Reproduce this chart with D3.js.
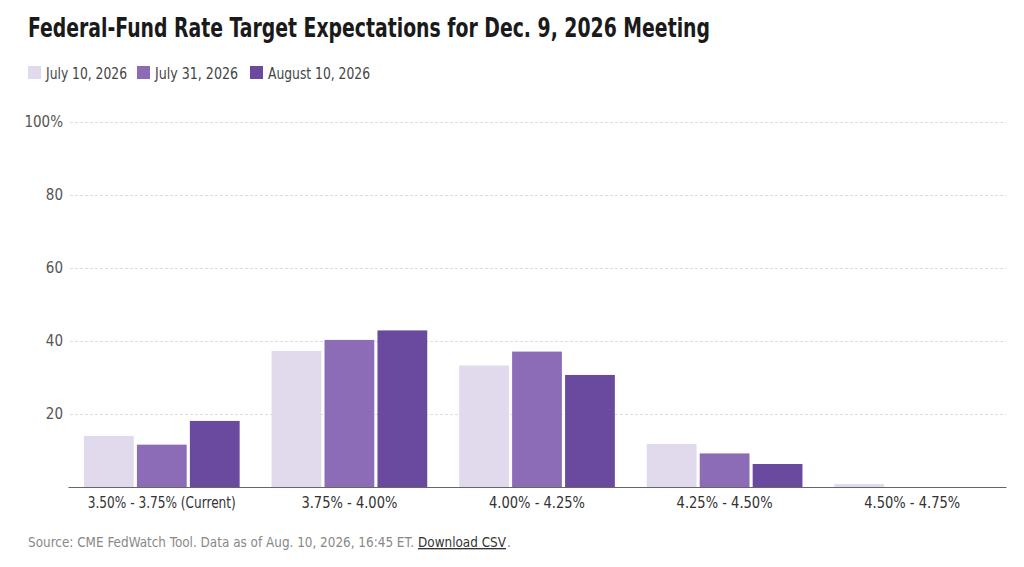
<!DOCTYPE html>
<html>
<head>
<meta charset="utf-8">
<script src="https://cdn.jsdelivr.net/npm/d3@7"></script>
<style>
  body { margin: 0; background: #fff; }
  svg text { font-family: "Liberation Sans Narrow", "DejaVu Sans Condensed", Roboto, sans-serif; }
</style>
</head>
<body>
<div id="wrapper"></div>
<script>
// data
const ranges = ['3.50% - 3.75% (Current)', '3.75% - 4.00%', '4.00% - 4.25%', '4.25% - 4.50%', '4.50% - 4.75%']
const seriesNames = ['July 10, 2026', 'July 31, 2026', 'August 10, 2026']
const july10 = [14.0, 37.3, 33.3, 11.8, 0.8]
const july31 = [11.6, 40.3, 37.1, 9.2, 0]
const aug10 = [18.1, 42.9, 30.7, 6.3, 0]
const yTicks = [20, 40, 60, 80, 100]
const colors = ['#e1daed', '#8c6bb7', '#6a4a9e']

let dimensions = {
    width: 1024,
    height: 567,
    margin: { top: 122, right: 18, bottom: 80, left: 68 }
}
dimensions.boundedWidth = dimensions.width - dimensions.margin.left - dimensions.margin.right
dimensions.boundedHeight = dimensions.height - dimensions.margin.top - dimensions.margin.bottom

const svg = d3.select("#wrapper")
    .append("svg")
    .attr("width", dimensions.width)
    .attr("height", dimensions.height)

// title
svg.append("text")
    .attr("x", 28).attr("y", 37)
    .attr("font-size", "27px")
    .attr("font-weight", "bold")
    .attr("fill", "#1a1a1a")
    .attr("textLength", 682)
    .attr("lengthAdjust", "spacingAndGlyphs")
    .text("Federal-Fund Rate Target Expectations for Dec. 9, 2026 Meeting")

// legend
const legendX = [28, 137, 250]
const legendW = [81, 83, 102]
const legend = svg.append("g").attr("class", "legend")
seriesNames.forEach((name, i) => {
    legend.append("rect")
        .attr("x", legendX[i]).attr("y", 66)
        .attr("width", 13).attr("height", 13)
        .attr("fill", colors[i])
    legend.append("text")
        .attr("x", legendX[i] + 18).attr("y", 79)
        .attr("font-size", "16px")
        .attr("fill", "#444")
        .attr("textLength", legendW[i])
        .attr("lengthAdjust", "spacingAndGlyphs")
        .text(name)
})

const bounds = svg.append("g")
    .attr("transform", `translate(${dimensions.margin.left},${dimensions.margin.top})`)

const x0 = d3.scaleBand()
    .domain(ranges)
    .range([0, dimensions.boundedWidth])
    .paddingInner(0.17)
    .paddingOuter(0.085)

const x1 = d3.scaleBand()
    .domain(d3.range(seriesNames.length))
    .range([0, x0.bandwidth()])
    .paddingInner(0.06)

const y = d3.scaleLinear()
    .domain([0, 100])
    .range([dimensions.boundedHeight, 0])

// gridlines + y labels
const yAxis = d3.axisLeft(y)
    .tickValues(yTicks)
    .tickSize(-dimensions.boundedWidth)
    .tickFormat(d => d === 100 ? '100%' : d)

const yG = bounds.append("g").call(yAxis)
yG.select(".domain").remove()
yG.selectAll(".tick line")
    .attr("stroke", "#dcdcdc")
    .attr("stroke-dasharray", "3,2")
    .attr("x1", 2)
yG.selectAll(".tick text")
    .attr("x", -5)
    .attr("font-size", "15px")
    .attr("fill", "#555")
    .attr("font-family", null)

// bars
const seriesValues = [july10, july31, aug10]
const barData = ranges.flatMap((r, i) => seriesValues.map((vals, s) => ({ range: r, s: s, value: vals[i] })))

bounds.append("g")
    .selectAll("rect")
    .data(barData.filter(d => d.value > 0))
    .enter()
    .append("rect")
    .attr("x", d => x0(d.range) + x1(d.s))
    .attr("y", d => y(d.value))
    .attr("width", x1.bandwidth())
    .attr("height", d => y(0) - y(d.value))
    .attr("fill", d => colors[d.s])

// x axis
const xLabelW = [148, 96, 96, 96, 96]
const xAxis = d3.axisBottom(x0).tickSize(0).tickPadding(10)
const xG = bounds.append("g")
    .attr("transform", `translate(0,${dimensions.boundedHeight})`)
    .call(xAxis)
xG.select(".domain").attr("stroke", "#666").attr("stroke-width", 1.2)
xG.selectAll(".tick text")
    .attr("font-size", "15px")
    .attr("fill", "#333")
    .attr("font-family", null)
    .attr("textLength", (d, i) => xLabelW[i])
    .attr("lengthAdjust", "spacingAndGlyphs")

// source line: pieces laid out one after another, font sized to fit ~483px
const footerParts = [
    { text: "Source: CME FedWatch Tool. Data as of Aug. 10, 2026, 16:45 ET.", fill: "#888", gap: 4 },
    { text: "Download CSV", fill: "#333", underline: true, gap: 1 },
    { text: ".", fill: "#888", gap: 0 }
]
const footer = svg.append("g")
const footerTexts = footerParts.map(p => footer.append("text")
    .attr("y", 547)
    .attr("font-size", "15px")
    .attr("fill", p.fill)
    .attr("text-decoration", p.underline ? "underline" : null)
    .text(p.text))
const natural = d3.sum(footerTexts, t => t.node().getComputedTextLength())
const fs = Math.min(15, 15 * 478 / natural)
let fx = 28
footerTexts.forEach((t, i) => {
    t.attr("font-size", fs + "px").attr("x", fx)
    fx += t.node().getComputedTextLength() + footerParts[i].gap
})
</script>
</body>
</html>
